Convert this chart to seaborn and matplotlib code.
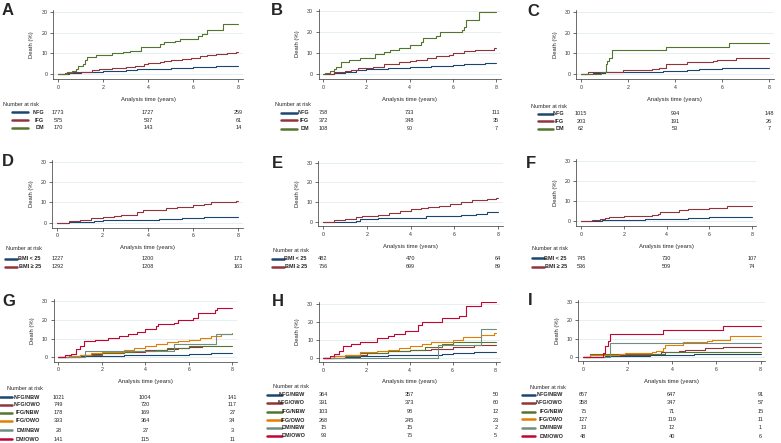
import numpy as np
import pandas as pd
import matplotlib
matplotlib.use("Agg")
import matplotlib.pyplot as plt
import matplotlib.transforms as mtransforms
from matplotlib.lines import Line2D
import seaborn as sns

W, H = 781, 443

# group labels
GLU_LABELS = ["NFG", "IFG", "DM"]
BMI_LABELS = ["BMI < 25", "BMI \u2265 25"]
MIX_LABELS = ["NFG/NBW", "NFG/OWO", "IFG/NBW", "IFG/OWO", "DM/NBW", "DM/OWO"]
RISK_TIMES = [0, 4, 8]

# cumulative death (%) as (time, value) step points
A_NFG = [(0, 0), (0.5, 0.4), (1, 0.8), (1.5, 1.1), (2, 1.5), (2.5, 1.7), (3, 2), (3.5, 2.2), (4, 2.4),
         (4.5, 2.6), (5, 2.9), (5.5, 3.1), (6, 3.3), (6.5, 3.5), (7, 3.7), (7.5, 3.9), (8, 4)]
A_IFG = [(0, 0), (0.3, 0.4), (0.6, 0.8), (1, 1.2), (1.5, 2), (1.8, 2.4), (2.4, 2.7), (3, 3.3), (3.4, 4),
         (3.8, 4.8), (4, 5.3), (4.5, 5.8), (4.7, 6.5), (5, 7), (5.5, 7.4), (5.9, 8), (6.3, 8.5), (6.6, 9),
         (7, 9.8), (7.5, 10), (7.9, 10.5), (8, 10.5)]
A_DM = [(0, 0), (0.4, 1), (0.6, 1.5), (0.8, 2.5), (0.9, 4), (1.1, 5), (1.2, 7), (1.3, 8.3), (1.7, 9),
        (2.4, 10), (2.9, 10.6), (3.2, 11.3), (3.7, 13), (4.5, 14.5), (4.7, 15.5), (5.2, 16), (5.4, 17.2),
        (6.2, 18.5), (6.4, 19.5), (6.6, 21.5), (7.3, 24), (8, 24)]

B_NFG = [(0, 0), (0.5, 0.4), (1, 1), (1.5, 1.8), (2, 2.2), (2.5, 2.5), (3, 2.8), (3.5, 3), (4, 3.2),
         (4.5, 3.4), (5, 3.7), (5.5, 4), (6, 4.2), (6.5, 4.5), (7, 4.8), (7.5, 5), (8, 5)]
B_IFG = [(0, 0), (0.5, 0.8), (1, 1.3), (1.3, 2), (1.6, 3), (2.3, 3.3), (2.8, 4.5), (3.5, 5.5), (4, 6),
         (4.3, 6.5), (4.8, 7.5), (5.2, 8.5), (5.8, 9), (6, 10), (6.5, 10.7), (7, 11.2), (7.9, 12.2), (8, 12.2)]
B_DM = [(0, 0), (0.1, 0.5), (0.3, 1.5), (0.5, 2.5), (0.6, 3.5), (0.8, 5.5), (1.2, 6.5), (1.7, 7.5),
        (2.4, 9.5), (2.8, 10.5), (3.1, 11.3), (3.5, 12.5), (4.0, 13.5), (4.5, 15), (4.6, 17), (5.2, 18),
        (5.4, 20), (6.4, 21), (6.5, 22.5), (6.6, 25.5), (7.2, 29.5), (8, 29.5)]

C_NFG = [(0, 0), (0.5, 0.4), (1, 0.8), (1.5, 0.9), (2, 1), (2.5, 1.1), (3, 1.2), (3.5, 1.4), (4, 1.5),
         (4.5, 2.1), (5, 2.4), (5.5, 2.6), (6, 2.8), (6.5, 3), (8, 3)]
C_IFG = [(0, 0), (0.3, 0.8), (1.3, 1.2), (1.8, 2), (3.0, 2.5), (3.3, 3), (3.6, 5), (4.5, 6), (5.6, 6.2),
         (5.8, 7), (6.6, 8), (8, 8)]
C_DM = [(0, 0), (0.85, 1), (1.05, 5), (1.1, 6.5), (1.2, 8), (1.3, 11.5), (3.6, 13), (6.3, 15), (8, 15)]

D_LO = [(0, 0), (0.5, 0.3), (1, 0.5), (1.6, 1), (2, 1.1), (3, 1.3), (4, 1.5), (4.5, 1.7), (5, 2),
        (5.5, 2.2), (6, 2.4), (6.5, 2.6), (7, 2.7), (8, 2.8)]
D_HI = [(0, 0), (0.5, 0.8), (1, 1.5), (1.5, 2.5), (2, 3), (2.5, 3.3), (2.8, 3.8), (3.5, 5), (3.8, 6),
        (4.5, 6.3), (4.8, 7.2), (5.3, 7.8), (6, 8.5), (6.5, 9), (6.8, 10), (7.5, 10.2), (7.9, 10.4), (8, 10.4)]

E_LO = [(0, 0), (1.5, 0.5), (1.7, 1.5), (2.5, 1.8), (4, 2), (4.7, 2.7), (5.5, 3), (6.3, 3.5), (7, 4),
        (7.5, 4.7), (8, 4.8)]
E_HI = [(0, 0), (0.5, 0.8), (1, 1.3), (1.5, 2.5), (1.8, 3), (2.5, 3.5), (3, 4.3), (3.5, 5.3), (4, 6.2),
        (4.5, 6.8), (4.8, 7.5), (5.3, 8), (5.8, 9), (6.3, 9.8), (6.8, 11.2), (7.5, 11.3), (7.9, 11.9), (8, 11.9)]

F_LO = [(0, 0), (0.5, 0.3), (1, 0.5), (2, 0.8), (3, 1), (4, 1.3), (5, 1.5), (5.5, 1.8), (6, 2), (8, 2)]
F_HI = [(0, 0), (0.5, 0.5), (0.9, 1), (1.1, 1.8), (1.3, 2.2), (2, 2.5), (3, 2.8), (3.3, 3.2), (3.6, 3.8),
        (3.7, 4.5), (4.4, 4.7), (4.6, 5.8), (5.0, 6), (6, 6.4), (6.3, 6.8), (6.8, 7.4), (8, 7.4)]

G_NFG_NBW = [(0, 0), (1, 0.6), (2, 0.8), (3, 1), (4, 1.2), (5, 1.5), (6, 2), (7, 2.1), (8, 2.2)]
G_NFG_OWO = [(0, 0), (0.5, 0.8), (1, 1.5), (1.5, 2), (2, 2.5), (3, 3), (4, 4), (5, 4.5), (5.5, 5),
             (6, 5.5), (6.6, 6)]
G_IFG_NBW = [(0, 0), (1, 1.5), (2, 2.5), (3, 3), (3.5, 3.5), (4.5, 4), (5, 5), (6, 6), (8, 6.3)]
G_IFG_OWO = [(0, 0), (0.5, 0.8), (1, 1.5), (1.5, 2.3), (2, 3), (3, 4), (3.5, 5), (4, 6), (4.5, 7),
             (5, 8), (5.5, 8.5), (6, 9.5), (6.5, 10.5), (7, 11.5), (7.5, 12.5), (8, 13)]
G_DM_NBW = [(0, 0), (1.25, 3.5), (5.3, 7), (7.25, 12.5), (8, 12.5)]
G_DM_OWO = [(0, 0), (0.3, 1), (0.6, 2), (0.8, 4.5), (1.0, 6), (1.2, 8.8), (1.7, 9.5), (2.3, 10.5),
            (2.8, 11.5), (3.2, 12.5), (3.6, 13.5), (4.0, 15), (4.5, 16.5), (4.6, 18), (5.3, 18.5),
            (5.5, 20), (6.2, 21), (6.4, 23.5), (7.2, 25.5), (7.3, 26.5), (8, 26.5)]

H_NFG_NBW = [(0, 0), (1, 0.5), (1.7, 1), (3, 1.3), (4, 1.5), (5, 1.7), (5.5, 2), (6, 2.5), (6.5, 2.8),
             (7, 3), (8, 3)]
H_NFG_OWO = [(0, 0), (0.5, 0.8), (1, 1.5), (2, 2.5), (3, 3.5), (4, 4.5), (5, 5), (6, 6), (7, 7), (8, 7)]
H_IFG_NBW = [(0, 0), (1, 1), (1.7, 2.5), (3, 3.5), (4, 4.5), (4.7, 6), (5.5, 7.5), (6, 9), (8, 9)]
H_IFG_OWO = [(0, 0), (0.5, 0.8), (1, 1.5), (1.7, 3), (2.5, 3.5), (3, 4.5), (3.5, 5.5), (4, 6.5),
             (4.6, 7.5), (5, 9), (6, 10), (6.5, 11.5), (7.3, 12.5), (7.9, 14), (8, 14)]
H_DM_NBW = [(0, 0), (5.3, 7), (7.3, 16), (8, 16)]
H_DM_OWO = [(0, 0), (0.3, 1), (0.5, 2), (0.7, 4), (0.9, 6.5), (1.3, 7.5), (1.7, 8.5), (2.0, 9),
            (2.5, 11), (3.0, 12), (3.3, 13), (3.8, 15), (4.4, 18), (4.6, 20), (5.5, 22), (6.3, 23.5),
            (6.6, 29), (7.3, 31), (8, 31)]

I_NFG_NBW = [(0, 0), (1, 0.5), (2, 0.6), (3, 0.8), (4, 1), (5, 1.5), (6, 1.8), (8, 1.8)]
I_NFG_OWO = [(0, 0), (1, 1), (3, 1.5), (3.5, 2.5), (4.3, 3), (4.6, 4), (5.5, 5), (6.3, 5.5), (8, 5.5)]
I_IFG_NBW = [(0, 0), (0.3, 1.5), (3.7, 2.5), (8, 2.5)]
I_IFG_OWO = [(0, 0), (0.3, 0.8), (1.6, 1.5), (1.9, 2), (3.1, 2.5), (3.3, 3.5), (3.6, 5), (3.7, 6.5),
             (4.5, 8), (5.6, 8.5), (5.8, 9.5), (6.6, 11.5), (8, 11.5)]
I_DM_NBW = [(0, 0), (1.2, 7.5), (8, 7.5)]
I_DM_OWO = [(0, 0), (0.9, 2), (1.0, 6), (1.1, 8.5), (1.2, 12.5), (3.6, 14.5), (6.3, 17), (8, 17)]

# number at risk at 0, 4, 8 years
A_RISK = [[1773, 1727, 259], [575, 537, 61], [170, 143, 14]]
B_RISK = [[758, 733, 111], [372, 348, 35], [108, 90, 7]]
C_RISK = [[1015, 994, 148], [203, 191, 26], [62, 53, 7]]
D_RISK = [[1227, 1200, 171], [1292, 1208, 163]]
E_RISK = [[482, 470, 64], [756, 699, 89]]
F_RISK = [[745, 730, 107], [536, 509, 74]]
G_RISK = [[1021, 1004, 141], [749, 720, 117], [178, 169, 27], [393, 364, 34], [28, 27, 3], [141, 115, 11]]
H_RISK = [[364, 357, 50], [391, 373, 60], [103, 98, 12], [268, 245, 23], [15, 15, 2], [93, 75, 5]]
I_RISK = [[657, 647, 91], [358, 347, 57], [75, 71, 15], [127, 119, 11], [13, 12, 1], [48, 40, 6]]

# Stata s2color palette
NAVY, MAROON, FOREST = "#1a476f", "#90353b", "#55752f"
ORANGE, TEAL, CRANBERRY = "#e37e00", "#6e8e84", "#c10534"
GLU_COLORS = [NAVY, MAROON, FOREST]
BMI_COLORS = [NAVY, MAROON]
MIX_COLORS = [NAVY, MAROON, FOREST, ORANGE, TEAL, CRANBERRY]

sns.set_style("white")
plt.rcParams["font.family"] = ["Liberation Sans", "DejaVu Sans"]

fig = plt.figure(figsize=(W / 100, H / 100), dpi=100)


def fx(px):
    return px / W


def fy(py):
    return 1 - py / H


def draw_panel(letter, letter_xy, rect, curves, labels, colors, risk, title_xy, line_x, label_x, row_ys):
    left, top, w, h = rect
    ax = fig.add_axes([fx(left), fy(top + h), w / W, h / H])

    rows = []
    for lab, pts in zip(labels, curves):
        for t, v in pts:
            rows.append((lab, t, v))
    df = pd.DataFrame(rows, columns=["group", "time", "death"])
    sns.lineplot(data=df, x="time", y="death", hue="group", hue_order=labels, palette=colors,
                 drawstyle="steps-post", estimator=None, legend=False, linewidth=0.8, ax=ax)

    ax.set_xlim(-0.22, 8.2)
    ax.set_ylim(-2.4, 31)
    ax.set_xticks([0, 2, 4, 6, 8])
    ax.set_yticks([0, 10, 20, 30])
    ax.grid(axis="y", color="#e2ecef", linewidth=0.6)
    ax.grid(axis="x", visible=False)
    ax.set_axisbelow(True)
    for s in ["top", "right"]:
        ax.spines[s].set_visible(False)
    for s in ["left", "bottom"]:
        ax.spines[s].set_linewidth(0.5)
        ax.spines[s].set_color("#333333")
    ax.tick_params(labelsize=3.8, length=2, width=0.5, pad=2, colors="#333333", left=True, bottom=True)
    ax.set_xlabel("Analysis time (years)", fontsize=4.2, labelpad=5)
    ax.set_ylabel("Death (%)", fontsize=4.2, labelpad=5)

    fig.text(fx(letter_xy[0]), fy(letter_xy[1]), letter, fontsize=12, fontweight="bold", va="top", ha="left")

    # number-at-risk table
    fig.text(fx(title_xy[0]), fy(title_xy[1]), "Number at risk", fontsize=4, va="center", ha="left")
    tr = mtransforms.blended_transform_factory(ax.transData, fig.transFigure)
    for lab, col, counts, ry in zip(labels, colors, risk, row_ys):
        fig.add_artist(Line2D([fx(line_x[0]), fx(line_x[1])], [fy(ry), fy(ry)], color=col, linewidth=1.8))
        fig.text(fx(label_x), fy(ry), lab, fontsize=4, fontweight="bold", va="center", ha="right")
        for t, n in zip(RISK_TIMES, counts):
            ax.text(t, fy(ry), str(n), transform=tr, fontsize=4, va="center", ha="center", clip_on=False)
    return ax


draw_panel("A", (2, 3), (53, 10, 190, 69), [A_NFG, A_IFG, A_DM], GLU_LABELS, GLU_COLORS, A_RISK,
           (3, 104), (12, 28), 44, [112.3, 120, 127.7])
draw_panel("B", (271, 3), (318.5, 8.6, 182, 70.4), [B_NFG, B_IFG, B_DM], GLU_LABELS, GLU_COLORS, B_RISK,
           (275, 104), (281, 297), 309, [112.7, 120.3, 129])
draw_panel("C", (527, 4), (576, 10, 197.7, 69), [C_NFG, C_IFG, C_DM], GLU_LABELS, GLU_COLORS, C_RISK,
           (531, 106), (538, 553), 564, [113.7, 121.3, 129])
draw_panel("D", (2, 154), (52.3, 159.5, 190.7, 68), [D_LO, D_HI], BMI_LABELS, BMI_COLORS, D_RISK,
           (6, 248.3), (5, 17), 41, [259, 267])
draw_panel("E", (272, 156), (318, 160.6, 184.6, 65.8), [E_LO, E_HI], BMI_LABELS, BMI_COLORS, E_RISK,
           (273, 250), (272, 284), 307, [259, 266.7])
draw_panel("F", (526, 156), (576.3, 158.7, 180.2, 67.5), [F_LO, F_HI], BMI_LABELS, BMI_COLORS, F_RISK,
           (532, 249), (532, 544), 567, [258.3, 266.7])
draw_panel("G", (2, 294), (53.5, 299.3, 183.2, 62.5),
           [G_NFG_NBW, G_NFG_OWO, G_IFG_NBW, G_IFG_OWO, G_DM_NBW, G_DM_OWO], MIX_LABELS, MIX_COLORS, G_RISK,
           (7, 389), (0, 12), 40, [397.3, 404.7, 412.7, 421, 430, 439.3])
draw_panel("H", (272, 294), (318.7, 302.2, 181.3, 59.8),
           [H_NFG_NBW, H_NFG_OWO, H_IFG_NBW, H_IFG_OWO, H_DM_NBW, H_DM_OWO], MIX_LABELS, MIX_COLORS, H_RISK,
           (273, 387), (267, 282), 305, [395, 402.7, 411.7, 420, 427.7, 435.7])
draw_panel("I", (528, 293), (578.4, 300.3, 186.6, 61),
           [I_NFG_NBW, I_NFG_OWO, I_IFG_NBW, I_IFG_OWO, I_DM_NBW, I_DM_OWO], MIX_LABELS, MIX_COLORS, I_RISK,
           (530, 387.3), (522, 535), 563, [395, 403, 411.7, 419.3, 427.7, 436])

fig.savefig("out.png", dpi=100)
